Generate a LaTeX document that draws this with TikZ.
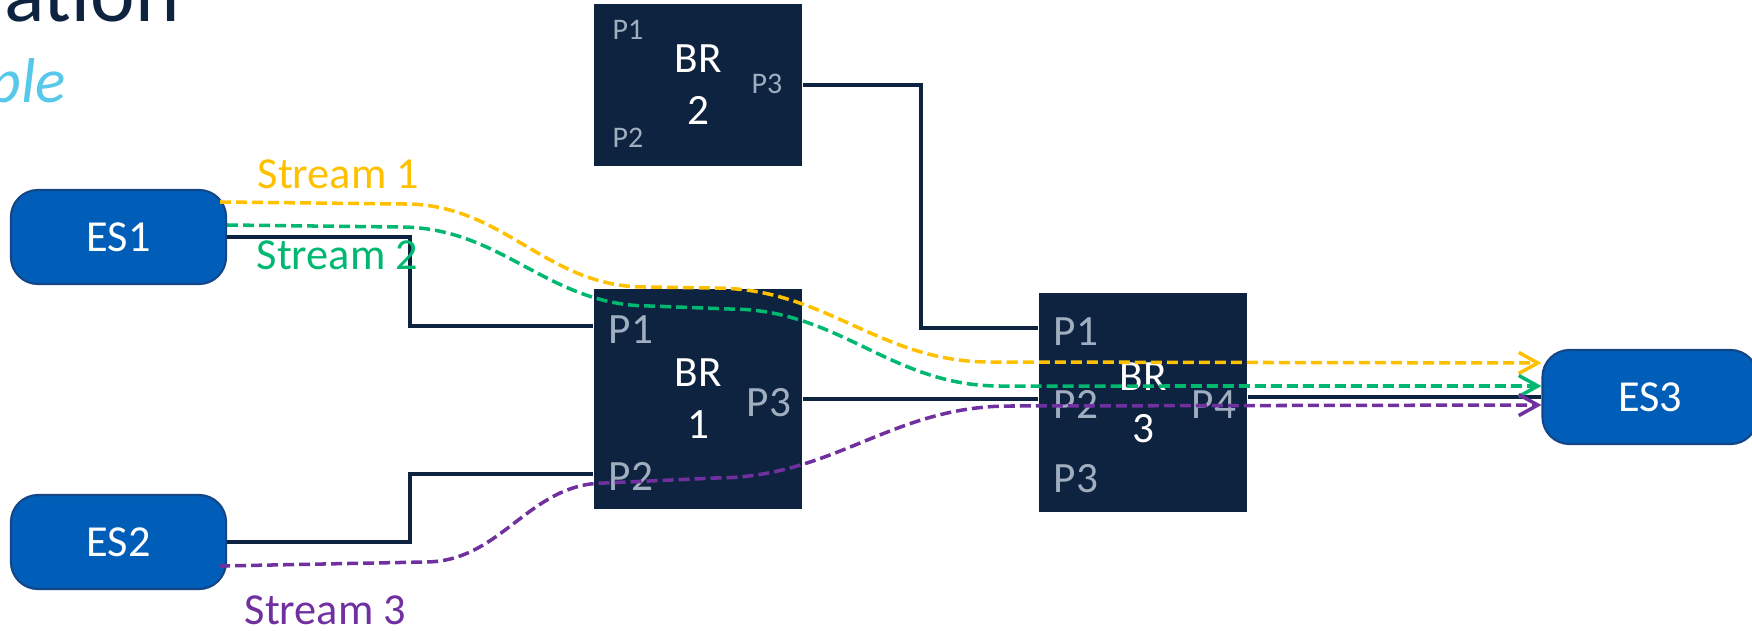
\documentclass[tikz,border=0pt]{standalone}
\usepackage{fontspec}
\setmainfont{Carlito}
\usetikzlibrary{arrows.meta}
\definecolor{navy}{RGB}{14,35,64}
\definecolor{esblue}{RGB}{0,94,184}
\definecolor{esedge}{RGB}{20,70,135}
\definecolor{portgray}{RGB}{160,174,192}
\definecolor{s1col}{RGB}{255,192,0}
\definecolor{s2col}{RGB}{0,184,112}
\definecolor{s3col}{RGB}{112,48,160}
\definecolor{subcyan}{RGB}{88,200,234}

\begin{document}
\begin{tikzpicture}[x=0.01cm, y=-0.01cm]
  \tikzstyle{es}=[rectangle, draw=esedge, fill=esblue, line width=0.6pt, minimum width=2.15cm, minimum height=0.94cm, rounded corners=0.27cm, text=white, font=\fontsize{12.6}{15}\selectfont]
  \tikzstyle{br}=[rectangle, fill=navy, minimum width=2.08cm, text=white, align=center, font=\fontsize{12.3}{14.8}\selectfont]
  \tikzstyle{port}=[anchor=base west, inner sep=0pt, text=portgray, font=\fontsize{12.3}{14}\selectfont]
  \tikzstyle{smallport}=[port, font=\fontsize{8.5}{10}\selectfont]
  \tikzstyle{link}=[line width=1pt, draw=navy]
  \tikzstyle{stream}=[line width=1pt, dash pattern=on 0.11cm off 0.05cm, -{Straight Barb[length=0.19cm, width=0.21cm]}]
  \tikzstyle{streamlabel}=[anchor=base west, inner sep=0pt, font=\fontsize{12.6}{15}\selectfont]

  \useasboundingbox (0,0) rectangle (1752,630);

  % Titel (abgeschnitten)
  \node[anchor=base west, inner sep=0pt, text=navy, font=\fontsize{24}{28}\selectfont] (title) at (-16,21) {lation};
  \node[anchor=base west, inner sep=0pt, text=subcyan, font=\fontsize{18}{22}\selectfont\itshape] (subtitle) at (-12,102) {ple};

  % End stations
  \node[es] (es1) at (118.5,237) {ES1};
  \node[es] (es2) at (118.5,542) {ES2};
  \node[es] (es3) at (1650,397) {ES3};

  % Bridges
  \node[br, minimum height=1.62cm] (br2) at (698,85) {BR\\2};
  \node[br, minimum height=2.2cm] (br1) at (698,399) {BR\\1};
  \node[br, minimum height=2.19cm] (br3) at (1143,402.5) {BR\\3};

  % Ports
  \node[smallport] (br2p1) at (612,39) {P1};
  \node[smallport] (br2p2) at (612,147) {P2};
  \node[smallport] (br2p3) at (751,93) {P3};
  \node[port] (br1p1) at (608,343) {P1};
  \node[port] (br1p2) at (608,490) {P2};
  \node[port] (br1p3) at (746,416) {P3};
  \node[port] (br3p1) at (1053,345) {P1};
  \node[port] (br3p2) at (1053,418) {P2};
  \node[port] (br3p3) at (1053,492) {P3};
  \node[port] (br3p4) at (1191,418) {P4};

  % Links
  \coordinate (j1) at (410,326);
  \coordinate (j2) at (410,474);
  \coordinate (j3) at (921,328);
  \draw[link] (es1.east) -| (j1) -- (j1 -| br1.west);
  \draw[link] (es2.east) -| (j2) -- (j2 -| br1.west);
  \draw[link] (br1.east) -- (br1.east -| br3.west);
  \draw[link] (br2.east) -| (j3) -- (j3 -| br3.west);
  \draw[link] (es3.west -| br3.east) -- (es3.west);

  % Streams
  \draw[stream, s1col] ([xshift=-0.07cm,yshift=0.35cm]es1.east) -- (405,204) to[out=0,in=180] (645,287) -- (715,288) to[out=0,in=180] (990,362) -- ([yshift=0.34cm]es3.west);
  \draw[stream, s2col] ([yshift=0.12cm]es1.east) -- (400,227) to[out=0,in=180] (650,306) -- (730,309) to[out=0,in=180] (1000,386) -- ([yshift=0.11cm]es3.west);
  \draw[stream, s3col] ([xshift=-0.08cm,yshift=-0.24cm]es2.east) -- (425,562) to[out=0,in=180] (605,483) -- (715,478) to[out=0,in=180] (1010,406) -- ([yshift=-0.08cm]es3.west);

  % Labels
  \node[streamlabel, text=s1col] (s1lab) at (257,188) {Stream 1};
  \node[streamlabel, text=s2col] (s2lab) at (256,269) {Stream 2};
  \node[streamlabel, text=s3col] (s3lab) at (244,624) {Stream 3};
\end{tikzpicture}
\end{document}
